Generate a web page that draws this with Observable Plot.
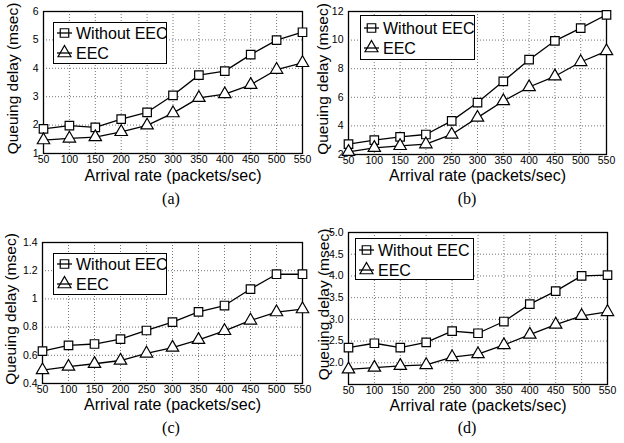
<!DOCTYPE html>
<html><head><meta charset="utf-8">
<script src="https://cdn.jsdelivr.net/npm/d3@7"></script>
<script src="https://cdn.jsdelivr.net/npm/@observablehq/plot@0.6"></script>
<style>
html,body{margin:0;padding:0;background:#fff;}
#root{position:relative;width:624px;height:443px;background:#fff;overflow:hidden;font-family:"Liberation Sans",Arial,sans-serif;}
.panel{position:absolute;}
.legend{position:absolute;background:#fff;box-sizing:border-box;border:1.3px solid #000;}
.caption{position:absolute;font-family:"Liberation Serif","Times New Roman",serif;font-size:16px;transform:translate(-50%,-50%);color:#000;}
</style></head><body><div id="root"></div>
<script>
// ---- data ----
const arrivalRates = [50,100,150,200,250,300,350,400,450,500,550];
const seriesNames = ["Without EEC","EEC"];
const xAxisLabel = "Arrival rate (packets/sec)";
const yAxisLabel = "Queuing delay (msec)";
const captions = ["(a)","(b)","(c)","(d)"];

const delayA_without = [1.87,1.98,1.92,2.21,2.45,3.05,3.76,3.90,4.48,4.99,5.27];
const delayA_eec     = [1.47,1.53,1.58,1.76,1.99,2.42,2.96,3.09,3.42,3.95,4.19];
const delayB_without = [2.72,3.00,3.23,3.40,4.35,5.63,7.12,8.63,9.95,10.84,11.77];
const delayB_eec     = [2.19,2.47,2.60,2.72,3.40,4.58,5.74,6.72,7.47,8.47,9.23];
const delayC_without = [0.63,0.67,0.68,0.715,0.776,0.835,0.908,0.953,1.07,1.175,1.175];
const delayC_eec     = [0.495,0.52,0.54,0.563,0.613,0.655,0.71,0.773,0.847,0.906,0.927];
const delayD_without = [2.35,2.45,2.35,2.47,2.73,2.68,2.95,3.35,3.65,4.00,4.02];
const delayD_eec     = [1.85,1.89,1.93,1.95,2.13,2.20,2.41,2.65,2.88,3.08,3.17];

const yDomainA = [1,6];   const yTicksA = [1,2,3,4,5,6];  const yTickLabelsA = ["1","2","3","4","5","6"];
const yDomainB = [2,12];  const yTicksB = [2,4,6,8,10,12]; const yTickLabelsB = ["2","4","6","8","10","12"];
const yDomainC = [0.4,1.4]; const yTicksC = [0.4,0.6,0.8,1.0,1.2,1.4]; const yTickLabelsC = ["0.4","0.6","0.8","1","1.2","1.4"];
const yDomainD = [1.5,5.0]; const yTicksD = [1.5,2.0,2.5,3.0,3.5,4.0,4.5,5.0]; const yTickLabelsD = ["","2.0","2.5","3.0","3.5","4.0","4.5","5.0"];

const panels = [
  {without: delayA_without, eec: delayA_eec, yDomain: yDomainA, yTicks: yTicksA, yTickLabels: yTickLabelsA, caption: captions[0]},
  {without: delayB_without, eec: delayB_eec, yDomain: yDomainB, yTicks: yTicksB, yTickLabels: yTickLabelsB, caption: captions[1]},
  {without: delayC_without, eec: delayC_eec, yDomain: yDomainC, yTicks: yTicksC, yTickLabels: yTickLabelsC, caption: captions[2]},
  {without: delayD_without, eec: delayD_eec, yDomain: yDomainD, yTicks: yTicksD, yTickLabels: yTickLabelsD, caption: captions[3]},
];

// ---- layout (pixels) ----
const layouts = [
  {frame:[43,11,302,153], legend:[53,22,114,42], rows:[11,31], caption:[171,199], xlabDy:22, ylabDx:-30, ylabDy:-4},
  {frame:[348,11,606,154], legend:[360,15,115,45], rows:[13,33], caption:[467,199], xlabDy:21.5, ylabDx:-25, ylabDy:-4},
  {frame:[42,242,302,383], legend:[53,253,114,42], rows:[11,31], caption:[171,428], xlabDy:21, ylabDx:-31, ylabDy:-4},
  {frame:[348,232,607,384], legend:[355,238,119,42], rows:[12,32], caption:[467,428], xlabDy:21, ylabDx:-24, ylabDy:-4},
];

const root = document.getElementById("root");
const mL = 43, mT = 11, mR = 10, mB = 38;
const gridStyle = {stroke:"#666", strokeOpacity:1, strokeWidth:0.9, strokeDasharray:"1,2"};

panels.forEach((p, i) => {
  const L = layouts[i];
  const [x0,y0,x1,y1] = L.frame;
  const fw = x1-x0, fh = y1-y0;
  const rows = [];
  arrivalRates.forEach((r, j) => {
    rows.push({rate:r, delay:p.without[j], series:seriesNames[0]});
    rows.push({rate:r, delay:p.eec[j], series:seriesNames[1]});
  });
  const labelMap = new Map(p.yTicks.map((t,k) => [t, p.yTickLabels[k]]));
  const chart = Plot.plot({
    width: mL+fw+mR, height: mT+fh+mB,
    marginLeft: mL, marginTop: mT, marginRight: mR, marginBottom: mB,
    style: {fontFamily:"'Liberation Sans', Arial, sans-serif", fontSize:"10.5px", color:"#000", background:"transparent", overflow:"visible"},
    x: {domain:[arrivalRates[0], arrivalRates[arrivalRates.length-1]]},
    y: {domain:p.yDomain},
    marks: [
      Plot.gridX(arrivalRates, gridStyle),
      Plot.gridY(p.yTicks, gridStyle),
      Plot.frame({stroke:"#000", strokeWidth:1.3}),
      Plot.axisX(arrivalRates, {tickSize:0, tickPadding:2, label:null, tickFormat:d => String(d)}),
      Plot.axisY(p.yTicks, {tickSize:0, tickPadding:5, label:null, tickFormat:d => labelMap.get(d)}),
      Plot.line(rows, {x:"rate", y:"delay", z:"series", stroke:"#000", strokeWidth:1.3}),
      Plot.dot(rows.filter(d => d.series === seriesNames[0]), {x:"rate", y:"delay", symbol:"square", r:4.8, fill:"#fff", stroke:"#000", strokeWidth:1.2}),
      Plot.dot(rows.filter(d => d.series === seriesNames[1]), {x:"rate", y:"delay", symbol:"triangle", r:4.6, fill:"#fff", stroke:"#000", strokeWidth:1.2}),
      Plot.text([xAxisLabel], {text:d => d, frameAnchor:"bottom", lineAnchor:"middle", textAnchor:"middle", dy:L.xlabDy, fontSize:16}),
      Plot.text([yAxisLabel], {text:d => d, frameAnchor:"left", rotate:-90, textAnchor:"middle", lineAnchor:"middle", dx:L.ylabDx, dy:L.ylabDy, fontSize:15.5}),
    ]
  });
  const wrap = document.createElement("div");
  wrap.className = "panel";
  wrap.style.left = (x0-mL)+"px";
  wrap.style.top = (y0-mT)+"px";
  wrap.appendChild(chart);
  root.appendChild(wrap);

  // legend box
  const [lx,ly,lw,lh] = L.legend;
  const leg = document.createElement("div");
  leg.className = "legend";
  leg.style.left = lx+"px"; leg.style.top = ly+"px";
  leg.style.width = lw+"px"; leg.style.height = lh+"px";
  const ns = "http://www.w3.org/2000/svg";
  const svg = document.createElementNS(ns, "svg");
  svg.setAttribute("width", lw); svg.setAttribute("height", lh);
  svg.style.position = "absolute"; svg.style.left = "-1.3px"; svg.style.top = "-1.3px";
  seriesNames.forEach((name, k) => {
    const cy = L.rows[k];
    const line = document.createElementNS(ns, "line");
    line.setAttribute("x1", 4); line.setAttribute("x2", 19);
    line.setAttribute("y1", cy); line.setAttribute("y2", cy);
    line.setAttribute("stroke", "#000"); line.setAttribute("stroke-width", 1.3);
    svg.appendChild(line);
    const sym = document.createElementNS(ns, "path");
    sym.setAttribute("d", d3.symbol(k === 0 ? d3.symbolSquare : d3.symbolTriangle, 4.8*4.8*Math.PI)());
    sym.setAttribute("transform", `translate(11.5,${cy})`);
    sym.setAttribute("fill", "none"); sym.setAttribute("stroke", "#000"); sym.setAttribute("stroke-width", 1.2);
    svg.appendChild(sym);
    const t = document.createElementNS(ns, "text");
    t.setAttribute("x", 23); t.setAttribute("y", cy);
    t.setAttribute("dy", "0.35em");
    t.setAttribute("font-size", 16);
    t.setAttribute("font-family", "'Liberation Sans', Arial, sans-serif");
    t.textContent = name;
    svg.appendChild(t);
  });
  leg.appendChild(svg);
  root.appendChild(leg);

  const cap = document.createElement("div");
  cap.className = "caption";
  cap.style.left = L.caption[0]+"px"; cap.style.top = L.caption[1]+"px";
  cap.textContent = p.caption;
  root.appendChild(cap);
});
</script></body></html>
